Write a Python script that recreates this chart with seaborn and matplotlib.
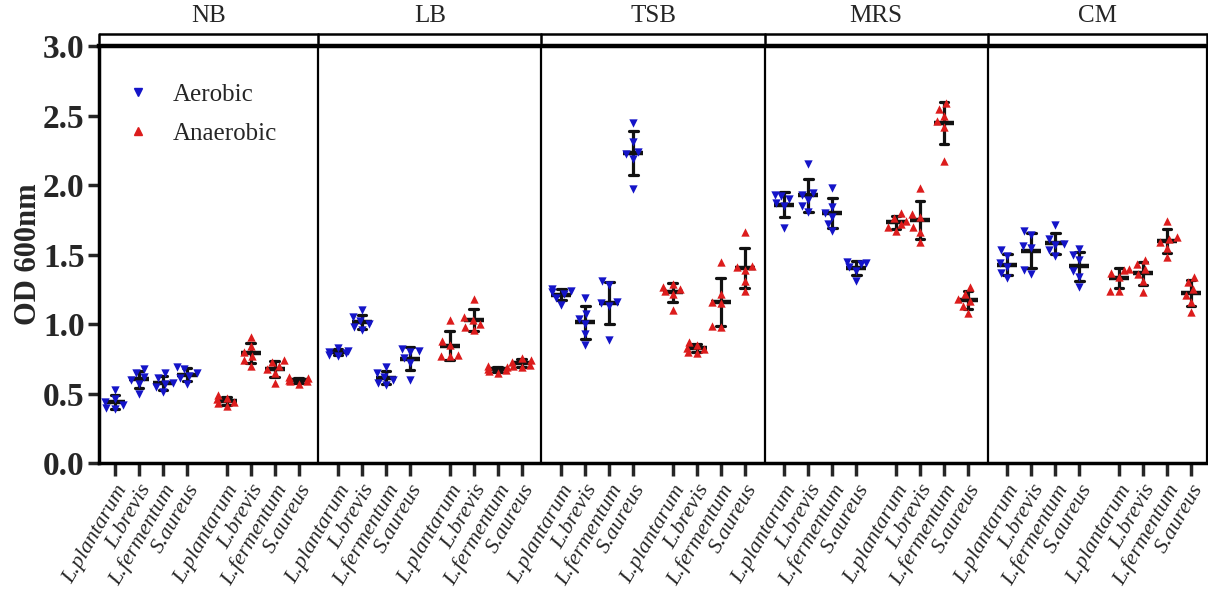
import numpy as np
import pandas as pd
import matplotlib
matplotlib.use("Agg")
import matplotlib.pyplot as plt
import seaborn as sns
from matplotlib.lines import Line2D

# ---------------- data ----------------
media = ["NB", "LB", "TSB", "MRS", "CM"]
strains = ["L.plantarum", "L.brevis", "L.fermentum", "S.aureus"]
conditions = ["Aerobic", "Anaerobic"]

# replicate OD600 readings; rows follow `strains`
NB_aerobic = [[0.53, 0.46, 0.44, 0.42, 0.39, 0.40],
              [0.68, 0.65, 0.62, 0.60, 0.57, 0.50],
              [0.65, 0.61, 0.58, 0.57, 0.55, 0.51],
              [0.69, 0.68, 0.65, 0.63, 0.61, 0.57]]
NB_anaerobic = [[0.49, 0.47, 0.46, 0.44, 0.43, 0.41],
                [0.91, 0.84, 0.80, 0.77, 0.74, 0.70],
                [0.74, 0.73, 0.70, 0.68, 0.65, 0.58],
                [0.62, 0.61, 0.60, 0.59, 0.59, 0.57]]
LB_aerobic = [[0.83, 0.81, 0.80, 0.79, 0.78, 0.77],
              [1.10, 1.05, 1.02, 1.00, 0.98, 0.96],
              [0.69, 0.65, 0.62, 0.60, 0.58, 0.56],
              [0.82, 0.81, 0.80, 0.76, 0.72, 0.60]]
LB_anaerobic = [[1.03, 0.88, 0.85, 0.78, 0.77, 0.77],
                [1.18, 1.05, 1.03, 1.00, 0.98, 0.96],
                [0.70, 0.69, 0.68, 0.67, 0.66, 0.65],
                [0.76, 0.74, 0.73, 0.71, 0.70, 0.69]]
TSB_aerobic = [[1.25, 1.24, 1.23, 1.22, 1.19, 1.14],
               [1.19, 1.07, 1.04, 1.00, 0.93, 0.85],
               [1.31, 1.28, 1.16, 1.15, 1.13, 0.89],
               [2.45, 2.31, 2.24, 2.22, 2.19, 1.97]]
TSB_anaerobic = [[1.29, 1.27, 1.25, 1.24, 1.22, 1.10],
                 [0.87, 0.85, 0.83, 0.82, 0.80, 0.79],
                 [1.45, 1.22, 1.16, 1.15, 0.99, 0.98],
                 [1.66, 1.42, 1.41, 1.39, 1.31, 1.24]]
MRS_aerobic = [[1.93, 1.92, 1.90, 1.87, 1.85, 1.69],
               [2.15, 1.94, 1.93, 1.89, 1.85, 1.81],
               [1.98, 1.84, 1.80, 1.77, 1.72, 1.67],
               [1.45, 1.44, 1.43, 1.41, 1.38, 1.31]]
MRS_anaerobic = [[1.80, 1.76, 1.74, 1.72, 1.70, 1.67],
                 [1.98, 1.79, 1.77, 1.70, 1.66, 1.59],
                 [2.59, 2.55, 2.50, 2.46, 2.42, 2.17],
                 [1.27, 1.22, 1.18, 1.17, 1.13, 1.08]]
CM_aerobic = [[1.53, 1.49, 1.44, 1.41, 1.37, 1.33],
              [1.67, 1.64, 1.56, 1.55, 1.39, 1.36],
              [1.71, 1.61, 1.58, 1.57, 1.53, 1.49],
              [1.54, 1.50, 1.46, 1.38, 1.34, 1.27]]
CM_anaerobic = [[1.40, 1.39, 1.37, 1.34, 1.24, 1.24],
                [1.46, 1.43, 1.40, 1.36, 1.31, 1.23],
                [1.74, 1.63, 1.61, 1.59, 1.55, 1.48],
                [1.34, 1.30, 1.25, 1.21, 1.16, 1.09]]

y_ticks = [0.0, 0.5, 1.0, 1.5, 2.0, 2.5, 3.0]

readings = {
    ("NB", "Aerobic"): NB_aerobic, ("NB", "Anaerobic"): NB_anaerobic,
    ("LB", "Aerobic"): LB_aerobic, ("LB", "Anaerobic"): LB_anaerobic,
    ("TSB", "Aerobic"): TSB_aerobic, ("TSB", "Anaerobic"): TSB_anaerobic,
    ("MRS", "Aerobic"): MRS_aerobic, ("MRS", "Anaerobic"): MRS_anaerobic,
    ("CM", "Aerobic"): CM_aerobic, ("CM", "Anaerobic"): CM_anaerobic,
}

# ---------------- layout (positions) ----------------
PANEL = 9.3      # distance between media panels
COND_OFF = 4.65  # offset of anaerobic block inside panel

rows = []
tick_pos, tick_lab = [], []
for p, m in enumerate(media):
    for c, cond in enumerate(conditions):
        for s, st in enumerate(strains):
            pos = p * PANEL + c * COND_OFF + s
            tick_pos.append(pos)
            tick_lab.append(st)
            for v in readings[(m, cond)][s]:
                rows.append({"medium": m, "condition": cond, "strain": st,
                             "pos": pos, "od": v})
df = pd.DataFrame(rows)

# ---------------- style ----------------
sns.set_theme(style="white")
plt.rcParams["font.family"] = ["Liberation Serif", "DejaVu Serif"]

W, H = 1208, 596
fig = plt.figure(figsize=(W / 100, H / 100), dpi=100)
ax_left_px, ax_right_px, ax_top_px, ax_bot_px = 98.5, 1207, 46, 463.3
ax = fig.add_axes([ax_left_px / W, 1 - ax_bot_px / H,
                   (ax_right_px - ax_left_px) / W, (ax_bot_px - ax_top_px) / H])

blue = "#1414c8"
red = "#dc1c1c"
cond_style = {"Aerobic": ("v", blue), "Anaerobic": ("^", red)}

for cond in conditions:
    mk, col = cond_style[cond]
    sns.swarmplot(data=df[df["condition"] == cond], x="pos", y="od",
                  native_scale=True, marker=mk, color=col, size=6,
                  linewidth=0, ax=ax)

sns.pointplot(data=df, x="pos", y="od", native_scale=True, errorbar="sd",
              color="#111111", marker="_", markersize=14, markeredgewidth=3.2,
              linestyle="none", capsize=0.36,
              err_kws={"linewidth": 2.3}, ax=ax)

xmin, xmax = -0.688, 4 * PANEL + COND_OFF + 3 + 0.667
ax.set_xlim(xmin, xmax)
ax.set_ylim(0, 3.0)

# separators between media
seps = [p * PANEL - 0.825 for p in range(1, len(media))]
for sx in seps:
    ax.axvline(sx, color="black", lw=1.6, zorder=5)

# spines
for side, lw in {"left": 2.5, "bottom": 2.5, "top": 3.2, "right": 1.6}.items():
    ax.spines[side].set_visible(True)
    ax.spines[side].set_color("black")
    ax.spines[side].set_linewidth(lw)

# ticks
ax.set_yticks(y_ticks)
ax.set_yticklabels([f"{t:.1f}" for t in y_ticks], fontsize=24, fontweight="bold")
ax.tick_params(axis="y", direction="out", length=8, width=2.5, pad=2, left=True)
ax.set_xticks(tick_pos)
ax.set_xticklabels(tick_lab, rotation=60, ha="right", rotation_mode="anchor",
                   fontsize=16, fontstyle="italic")
ax.tick_params(axis="x", direction="out", length=9, width=2.5, pad=4, bottom=True)
ax.set_xlabel("")
ax.set_ylabel("OD 600nm", fontsize=22, fontweight="bold")
ax.yaxis.set_label_coords(-0.050, 0.5)

# top bracket with medium names
trans = ax.get_xaxis_transform()
edges = [xmin] + seps + [xmax]
ax.plot([xmin, xmax], [1.029, 1.029], color="black", lw=1.8,
        transform=trans, clip_on=False, solid_capstyle="butt")
for ex in edges:
    ax.plot([ex, ex], [1.029, 1.008], color="black", lw=1.8,
            transform=trans, clip_on=False)
for i, m in enumerate(media):
    cx = (edges[i] + edges[i + 1]) / 2
    ax.text(cx, 1.072, m, transform=trans, ha="center", va="center",
            fontsize=18)

# legend
handles = [Line2D([], [], marker=cond_style[c][0], color=cond_style[c][1],
                  linestyle="none", markersize=6) for c in conditions]
ax.legend(handles, conditions, loc="upper left",
          bbox_to_anchor=(0.013, 0.94), frameon=False, borderpad=0,
          handlelength=1.0, handletextpad=0.9, labelspacing=0.65,
          prop={"size": 18})

fig.savefig("out.png", dpi=100)
